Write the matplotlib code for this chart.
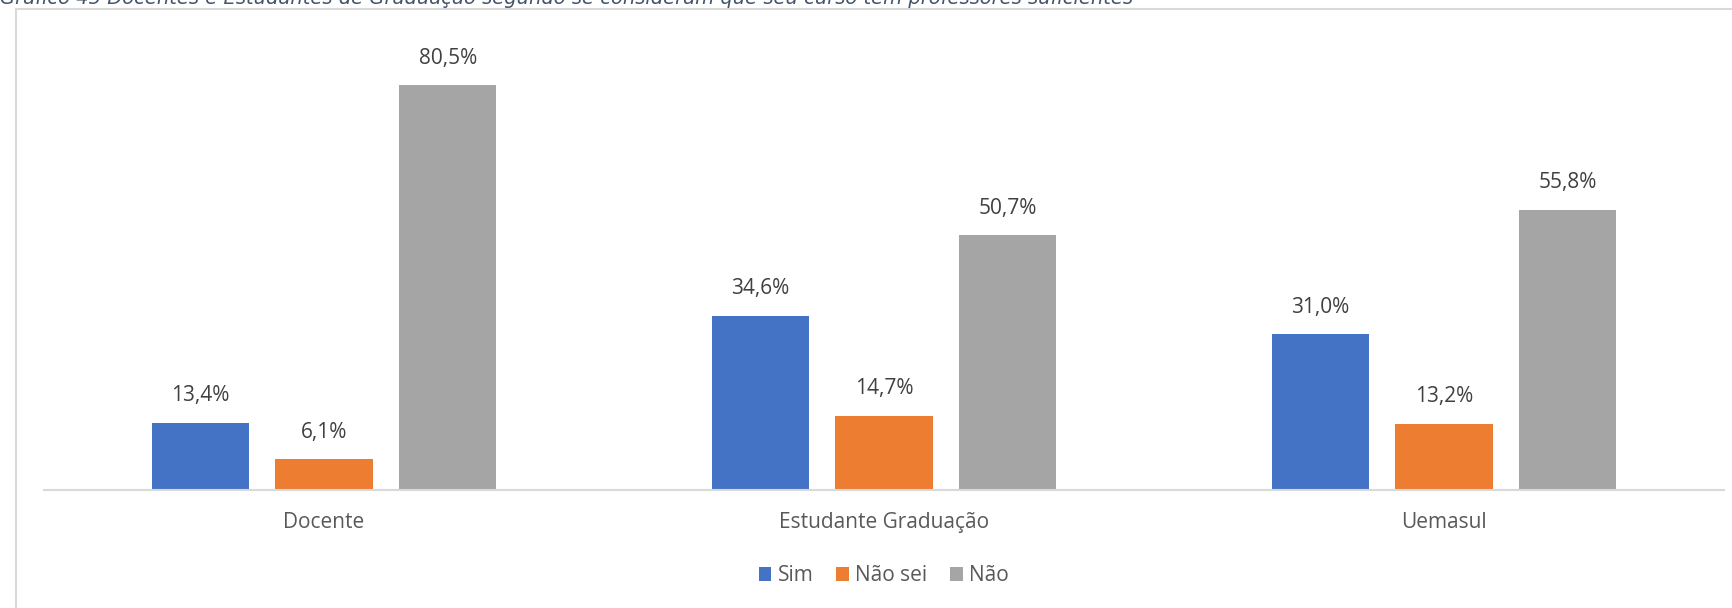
import numpy as np
import matplotlib
matplotlib.use('Agg')
import matplotlib.pyplot as plt
from matplotlib.patches import Rectangle

plt.rcParams['font.family'] = ['Open Sans', 'DejaVu Sans']

categories = ['Docente', 'Estudante Graduação', 'Uemasul']
series = ['Sim', 'Não sei', 'Não']
sim = [13.4, 34.6, 31.0]
nao_sei = [6.1, 14.7, 13.2]
nao = [80.5, 50.7, 55.8]
colors = ['#4472C4', '#ED7D31', '#A5A5A5']
title = ('Gráfico 45 Docentes e Estudantes de Graduação segundo se consideram '
         'que seu curso tem professores suficientes')

fig = plt.figure(figsize=(17.33, 6.08), dpi=100)
ax = fig.add_axes([0.0254, 0.194, 0.9694, 0.74])

x = np.arange(len(categories))
width = 0.174
step = 0.221
for i, (name, vals) in enumerate(zip(series, [sim, nao_sei, nao])):
    pos = x + (i - 1) * step
    bars = ax.bar(pos, vals, width, color=colors[i], label=name)
    for b, v in zip(bars, vals):
        ax.annotate(f'{v:.1f}%'.replace('.', ','),
                    (b.get_x() + b.get_width() / 2, v),
                    xytext=(0, 12), textcoords='offset points',
                    ha='center', va='bottom', fontsize=15, color='#404040')

ax.set_xlim(-0.5, 2.5)
ax.set_ylim(0, 89.5)
ax.set_xticks(x)
ax.set_xticklabels(categories, fontsize=15, color='#595959')
ax.tick_params(axis='x', length=0, pad=16)
ax.set_yticks([])
for s in ['top', 'right', 'left']:
    ax.spines[s].set_visible(False)
ax.spines['bottom'].set_color('#D9D9D9')
ax.spines['bottom'].set_linewidth(1.5)

leg = fig.legend(loc='center', bbox_to_anchor=(0.51, 0.053), ncol=3, frameon=False,
                 fontsize=15, handlelength=0.6, handleheight=0.6, columnspacing=1.1,
                 handletextpad=0.3)
for t in leg.get_texts():
    t.set_color('#595959')

# chart frame, partly outside the cropped picture
fig.patches.append(Rectangle((16 / 1733, -0.1), 1.0, 1.0 - 9 / 608 + 0.1,
                             transform=fig.transFigure, fill=False,
                             edgecolor='#D9D9D9', linewidth=1.5))

fig.text(0.0, 1.004, title, ha='left', va='center', fontsize=14, style='italic',
         color='#44546A', family=['Liberation Sans Narrow', 'DejaVu Sans'])

fig.savefig('out.png', dpi=100)
